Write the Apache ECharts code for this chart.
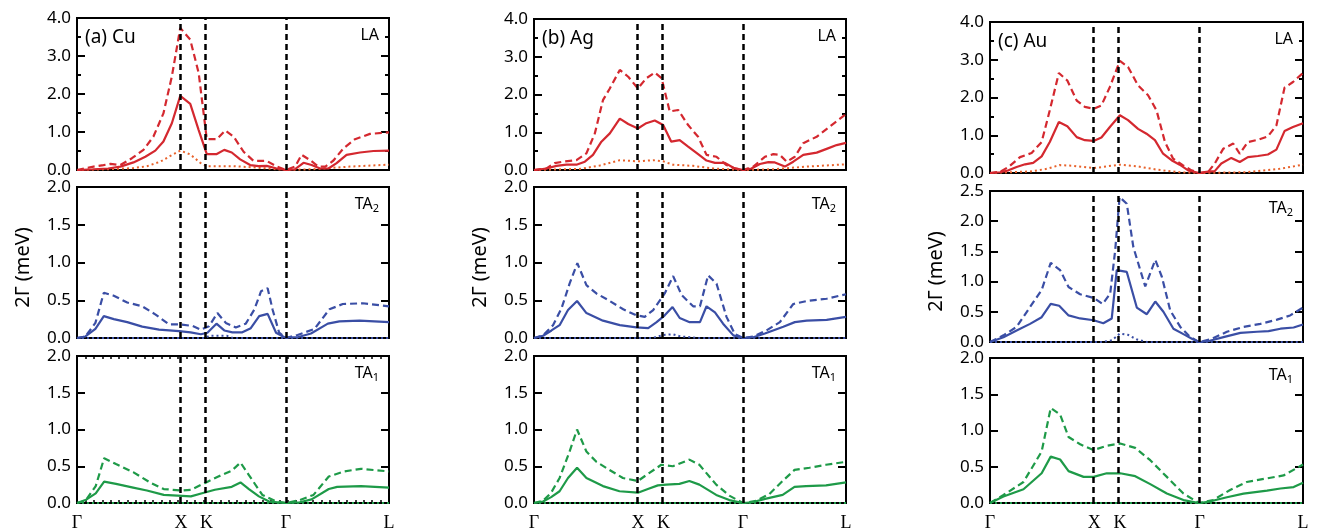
<!DOCTYPE html>
<html>
<head>
<meta charset="utf-8">
<script src="https://cdn.jsdelivr.net/npm/echarts@6/dist/echarts.min.js"></script>
<style>
  html, body { margin: 0; padding: 0; background: #fff; }
  #main { width: 1326px; height: 532px; }
</style>
</head>
<body>
<div id="main"></div>
<script>
// high symmetry points along the path (fraction of path length)
const hsymPos = [0, 0.333, 0.415, 0.67, 1]
const hsymLabels = ['Γ', 'X', 'K', 'Γ', 'L']

const metals = ['(a) Cu', '(b) Ag', '(c) Au']
const modes = ['LA', 'TA2', 'TA1']
const yMax = [[4, 2, 2], [4, 2, 2], [4, 2.5, 2]]

// ---- Cu ----
const cuLaSolid = [[0,0],[0.053,0.02],[0.1,0.04],[0.139,0.09],[0.181,0.2],[0.219,0.35],[0.251,0.51],[0.277,0.75],[0.304,1.23],[0.331,1.95],[0.363,1.74],[0.39,1.05],[0.416,0.42],[0.448,0.42],[0.472,0.53],[0.496,0.46],[0.523,0.28],[0.555,0.13],[0.582,0.1],[0.608,0.11],[0.64,0.04],[0.67,0],[0.699,0.02],[0.726,0.19],[0.752,0.13],[0.779,0.04],[0.806,0.04],[0.832,0.18],[0.864,0.4],[0.907,0.46],[0.95,0.5],[1,0.51]]
const cuLaDash = [[0,0],[0.053,0.09],[0.085,0.13],[0.107,0.16],[0.139,0.13],[0.176,0.31],[0.213,0.53],[0.245,0.88],[0.277,1.49],[0.304,2.46],[0.331,3.74],[0.363,3.43],[0.39,2.55],[0.416,0.81],[0.448,0.81],[0.475,1.04],[0.502,0.88],[0.534,0.48],[0.566,0.24],[0.608,0.24],[0.64,0.09],[0.67,0],[0.699,0.09],[0.72,0.4],[0.747,0.26],[0.774,0.09],[0.796,0.09],[0.822,0.25],[0.854,0.57],[0.891,0.81],[0.939,0.95],[1,0.99]]
const cuLaDot = [[0,0],[0.1,0.02],[0.181,0.05],[0.224,0.1],[0.267,0.22],[0.299,0.37],[0.331,0.51],[0.363,0.41],[0.395,0.19],[0.416,0.1],[0.502,0.1],[0.566,0.07],[0.67,0],[0.757,0.02],[0.874,0.09],[1,0.14]]
const cuTa2Solid = [[0,0],[0.027,0.02],[0.059,0.12],[0.086,0.29],[0.118,0.25],[0.161,0.21],[0.209,0.15],[0.263,0.11],[0.327,0.09],[0.364,0.075],[0.397,0.05],[0.418,0.07],[0.447,0.19],[0.472,0.1],[0.498,0.075],[0.53,0.075],[0.557,0.13],[0.584,0.29],[0.611,0.32],[0.638,0.07],[0.665,0.01],[0.67,0],[0.707,0.01],[0.75,0.06],[0.804,0.19],[0.841,0.22],[0.906,0.23],[1,0.21]]
const cuTa2Dash = [[0,0],[0.027,0.02],[0.059,0.2],[0.086,0.6],[0.118,0.56],[0.161,0.47],[0.209,0.42],[0.252,0.31],[0.295,0.18],[0.332,0.18],[0.37,0.16],[0.397,0.11],[0.423,0.155],[0.45,0.33],[0.477,0.2],[0.509,0.14],[0.541,0.19],[0.568,0.375],[0.59,0.62],[0.611,0.66],[0.627,0.375],[0.648,0.07],[0.67,0],[0.707,0.04],[0.761,0.12],[0.809,0.38],[0.852,0.45],[0.916,0.46],[1,0.42]]
const cuTa2Dot = [[0,0],[0.41,0],[0.425,0.03],[0.48,0.03],[0.5,0],[1,0]]
const cuTa1Solid = [[0,0],[0.027,0.04],[0.06,0.13],[0.087,0.29],[0.125,0.26],[0.18,0.21],[0.224,0.17],[0.278,0.11],[0.322,0.1],[0.365,0.09],[0.398,0.13],[0.442,0.18],[0.496,0.22],[0.524,0.28],[0.551,0.19],[0.583,0.09],[0.616,0.02],[0.67,0],[0.714,0.01],[0.752,0.05],[0.807,0.19],[0.834,0.22],[0.91,0.23],[1,0.21]]
const cuTa1Dash = [[0,0],[0.027,0.03],[0.06,0.23],[0.087,0.61],[0.125,0.53],[0.18,0.42],[0.234,0.28],[0.278,0.19],[0.332,0.17],[0.365,0.18],[0.409,0.27],[0.453,0.36],[0.496,0.44],[0.524,0.55],[0.551,0.38],[0.594,0.11],[0.638,0.02],[0.67,0],[0.714,0.04],[0.758,0.11],[0.807,0.36],[0.856,0.43],[0.91,0.465],[1,0.43]]
const cuTa1Dot = [[0,0],[1,0]]

// ---- Ag ----
const agLaSolid = [[0,0],[0.04,0.04],[0.072,0.11],[0.104,0.14],[0.136,0.14],[0.163,0.22],[0.189,0.4],[0.216,0.75],[0.243,0.97],[0.275,1.36],[0.302,1.22],[0.333,1.1],[0.36,1.24],[0.387,1.31],[0.414,1.19],[0.44,0.75],[0.467,0.79],[0.494,0.62],[0.526,0.42],[0.553,0.25],[0.58,0.19],[0.612,0.19],[0.639,0.06],[0.67,0],[0.697,0.04],[0.724,0.16],[0.751,0.21],[0.772,0.2],[0.804,0.09],[0.831,0.22],[0.863,0.4],[0.906,0.46],[0.938,0.56],[0.97,0.66],[1,0.72]]
const agLaDash = [[0,0],[0.04,0.04],[0.066,0.18],[0.093,0.22],[0.136,0.26],[0.168,0.44],[0.195,0.97],[0.221,1.85],[0.243,2.16],[0.275,2.65],[0.302,2.47],[0.333,2.16],[0.36,2.43],[0.387,2.58],[0.409,2.43],[0.435,1.55],[0.462,1.59],[0.494,1.19],[0.526,0.88],[0.553,0.4],[0.585,0.35],[0.617,0.13],[0.644,0.04],[0.67,0],[0.703,0.09],[0.74,0.35],[0.767,0.42],[0.788,0.4],[0.81,0.22],[0.836,0.35],[0.863,0.71],[0.906,0.88],[0.954,1.19],[1,1.48]]
const agLaDot = [[0,0],[0.15,0.03],[0.211,0.12],[0.275,0.26],[0.333,0.23],[0.382,0.26],[0.414,0.23],[0.446,0.14],[0.51,0.11],[0.574,0.04],[0.67,0],[0.767,0.02],[0.874,0.09],[1,0.15]]
const agTa2Solid = [[0,0],[0.029,0.03],[0.056,0.1],[0.082,0.17],[0.109,0.37],[0.138,0.49],[0.168,0.33],[0.221,0.23],[0.275,0.17],[0.328,0.14],[0.366,0.13],[0.393,0.21],[0.419,0.3],[0.444,0.41],[0.467,0.265],[0.499,0.21],[0.532,0.21],[0.553,0.42],[0.58,0.34],[0.606,0.19],[0.639,0.035],[0.67,0],[0.703,0.01],[0.74,0.06],[0.799,0.15],[0.836,0.21],[0.874,0.23],[0.938,0.24],[1,0.28]]
const agTa2Dash = [[0,0],[0.029,0.035],[0.061,0.17],[0.088,0.39],[0.114,0.72],[0.139,0.99],[0.168,0.7],[0.2,0.59],[0.243,0.49],[0.286,0.38],[0.328,0.3],[0.355,0.28],[0.382,0.37],[0.419,0.59],[0.446,0.82],[0.473,0.57],[0.51,0.42],[0.532,0.42],[0.558,0.83],[0.585,0.72],[0.617,0.28],[0.644,0.05],[0.67,0],[0.703,0.02],[0.745,0.1],[0.788,0.21],[0.831,0.45],[0.874,0.49],[0.938,0.52],[1,0.58]]
const agTa2Dot = [[0,0],[0.38,0],[0.415,0.04],[0.445,0.05],[0.47,0.02],[0.53,0],[1,0]]
const agTa1Solid = [[0,0],[0.029,0.02],[0.055,0.08],[0.082,0.16],[0.109,0.34],[0.138,0.48],[0.168,0.34],[0.221,0.23],[0.274,0.16],[0.333,0.14],[0.365,0.19],[0.397,0.24],[0.424,0.25],[0.466,0.26],[0.498,0.3],[0.53,0.25],[0.584,0.11],[0.626,0.04],[0.67,0],[0.7,0.01],[0.744,0.06],[0.797,0.11],[0.835,0.22],[0.872,0.23],[0.936,0.24],[1,0.28]]
const agTa1Dash = [[0,0],[0.029,0.03],[0.055,0.14],[0.082,0.34],[0.114,0.7],[0.138,1.0],[0.168,0.7],[0.2,0.56],[0.242,0.45],[0.285,0.34],[0.333,0.3],[0.37,0.41],[0.408,0.52],[0.445,0.5],[0.498,0.59],[0.53,0.52],[0.584,0.25],[0.626,0.1],[0.67,0],[0.712,0.03],[0.754,0.12],[0.797,0.3],[0.835,0.45],[0.883,0.48],[0.936,0.52],[1,0.56]]
const agTa1Dot = [[0,0],[1,0]]

// ---- Au ----
const auLaSolid = [[0,0],[0.032,0.02],[0.059,0.07],[0.085,0.16],[0.112,0.23],[0.138,0.27],[0.165,0.44],[0.191,0.82],[0.22,1.35],[0.247,1.24],[0.277,0.95],[0.303,0.87],[0.331,0.85],[0.356,0.94],[0.383,1.22],[0.415,1.53],[0.441,1.4],[0.473,1.17],[0.5,1.04],[0.527,0.87],[0.553,0.51],[0.58,0.34],[0.606,0.22],[0.633,0.07],[0.668,0],[0.691,0.03],[0.718,0.05],[0.739,0.25],[0.771,0.4],[0.798,0.29],[0.824,0.42],[0.856,0.45],[0.888,0.49],[0.915,0.62],[0.941,1.11],[0.968,1.22],[1,1.32]]
const auLaDash = [[0,0],[0.032,0.03],[0.059,0.16],[0.096,0.42],[0.133,0.53],[0.165,0.82],[0.191,1.66],[0.22,2.65],[0.247,2.45],[0.277,1.92],[0.303,1.75],[0.331,1.7],[0.356,1.79],[0.383,2.28],[0.415,2.97],[0.441,2.81],[0.473,2.32],[0.505,2.06],[0.532,1.66],[0.559,0.82],[0.585,0.38],[0.617,0.2],[0.644,0.07],[0.668,0],[0.697,0.03],[0.718,0.25],[0.745,0.64],[0.777,0.78],[0.798,0.51],[0.824,0.82],[0.856,0.88],[0.888,0.97],[0.915,1.26],[0.941,2.26],[0.968,2.41],[1,2.65]]
const auLaDot = [[0,0],[0.128,0.04],[0.181,0.11],[0.223,0.21],[0.266,0.19],[0.331,0.13],[0.415,0.22],[0.468,0.18],[0.532,0.09],[0.606,0.02],[0.668,0],[0.818,0.02],[0.925,0.11],[1,0.22]]
const auTa2Solid = [[0,0],[0.043,0.08],[0.085,0.19],[0.128,0.3],[0.165,0.41],[0.194,0.63],[0.221,0.6],[0.251,0.44],[0.288,0.39],[0.331,0.36],[0.362,0.31],[0.389,0.39],[0.405,1.19],[0.437,1.16],[0.469,0.57],[0.501,0.46],[0.528,0.67],[0.554,0.5],[0.586,0.22],[0.618,0.13],[0.645,0.055],[0.668,0],[0.702,0.02],[0.746,0.08],[0.8,0.15],[0.853,0.17],[0.89,0.18],[0.928,0.22],[0.97,0.24],[1,0.29]]
const auTa2Dash = [[0,0],[0.043,0.11],[0.085,0.25],[0.128,0.58],[0.165,0.86],[0.194,1.31],[0.224,1.19],[0.251,0.91],[0.288,0.79],[0.331,0.73],[0.36,0.63],[0.384,0.8],[0.4,1.52],[0.414,2.4],[0.437,2.29],[0.458,1.57],[0.496,0.92],[0.528,1.36],[0.549,1.08],[0.576,0.52],[0.608,0.25],[0.64,0.08],[0.668,0],[0.708,0.05],[0.757,0.17],[0.81,0.25],[0.864,0.3],[0.917,0.37],[0.959,0.44],[1,0.57]]
const auTa2Dot = [[0,0],[0.36,0],[0.39,0.03],[0.415,0.14],[0.44,0.12],[0.47,0.04],[0.5,0],[1,0]]
const auTa1Solid = [[0,0],[0.043,0.09],[0.107,0.19],[0.165,0.41],[0.194,0.64],[0.224,0.6],[0.251,0.44],[0.299,0.36],[0.331,0.36],[0.373,0.41],[0.416,0.41],[0.464,0.37],[0.512,0.26],[0.565,0.13],[0.618,0.04],[0.668,0],[0.702,0.02],[0.757,0.08],[0.81,0.13],[0.885,0.17],[0.928,0.2],[0.97,0.22],[1,0.28]]
const auTa1Dash = [[0,0],[0.043,0.11],[0.107,0.29],[0.165,0.71],[0.194,1.31],[0.224,1.22],[0.251,0.91],[0.288,0.81],[0.331,0.73],[0.373,0.79],[0.416,0.82],[0.464,0.76],[0.512,0.59],[0.565,0.36],[0.618,0.13],[0.668,0],[0.713,0.04],[0.767,0.18],[0.82,0.29],[0.885,0.34],[0.938,0.38],[1,0.53]]
const auTa1Dot = [[0,0],[1,0]]

const curves = [
  [[cuLaSolid, cuLaDash, cuLaDot], [cuTa2Solid, cuTa2Dash, cuTa2Dot], [cuTa1Solid, cuTa1Dash, cuTa1Dot]],
  [[agLaSolid, agLaDash, agLaDot], [agTa2Solid, agTa2Dash, agTa2Dot], [agTa1Solid, agTa1Dash, agTa1Dot]],
  [[auLaSolid, auLaDash, auLaDot], [auTa2Solid, auTa2Dash, auTa2Dot], [auTa1Solid, auTa1Dash, auTa1Dot]]
]

// layout
const colLeft = [77, 534, 990]
const colWidth = [312, 312, 313]
const rowTop = [[18, 187, 356], [19, 187, 356], [22, 191, 358]]
const rowHeight = [[152, 151, 148], [151, 151, 150], [151, 151, 150]]
const modeColor = ['#d4282f', '#3a4ea5', '#1e9a48']
const dotColor = ['#e8622b', '#3a4ea5', '#1e9a48']

const sans = 'Noto Sans'
const chart = echarts.init(document.getElementById('main'), null, { renderer: 'canvas' })

let grids = [], xAxes = [], yAxes = [], series = [], graphics = []
let extraX = []

for (let c = 0; c < 3; c++) {
  for (let r = 0; r < 3; r++) {
    const g = c * 3 + r
    const max = yMax[c][r]
    const step = r === 0 ? 1 : 0.5
    const bottomRow = r === 2
    const cuTicks = c === 0 && r === 2
    grids.push({
      left: colLeft[c], top: rowTop[c][r], width: colWidth[c], height: rowHeight[c][r],
      show: true, borderColor: '#000', borderWidth: 2, backgroundColor: 'transparent'
    })
    xAxes.push({
      type: 'value', gridIndex: g, position: 'bottom', min: 0, max: 1, interval: 1 / 37,
      axisLine: { show: false, onZero: false }, splitLine: { show: false },
      axisTick: { show: cuTicks, inside: true, length: 3, lineStyle: { color: '#000', width: 1.5 } },
      axisLabel: bottomRow ? {
        show: true, customValues: hsymPos, margin: 11,
        fontFamily: 'Liberation Serif', fontSize: 18, color: '#000',
        formatter: v => hsymLabels[hsymPos.indexOf(v)]
      } : { show: false }
    })
    if (cuTicks) {
      // only this panel shows the fine q-grid ticks on top and bottom
      extraX.push({
        type: 'value', gridIndex: g, position: 'top', min: 0, max: 1, interval: 1 / 37,
        axisLine: { show: false, onZero: false }, splitLine: { show: false }, axisLabel: { show: false },
        axisTick: { show: true, inside: true, length: 3, lineStyle: { color: '#000', width: 1.5 } }
      })
    }
    const yBase = {
      type: 'value', gridIndex: g, min: 0, max: max, interval: step,
      axisLine: { show: false, onZero: false }, splitLine: { show: false },
      axisTick: { show: true, inside: true, length: 8, lineStyle: { color: '#000', width: 2 } },
      minorTick: { show: r === 0, splitNumber: 2, length: 4, lineStyle: { color: '#000', width: 2 } }
    }
    yAxes.push(Object.assign({}, yBase, {
      position: 'left',
      axisLabel: { show: true, margin: 6, fontFamily: sans, fontSize: 17, color: '#000', formatter: v => v.toFixed(1) }
    }))
    yAxes.push(Object.assign({}, yBase, { position: 'right', axisLabel: { show: false } }))

    const [solid, dash, dot] = curves[c][r]
    const base = { type: 'line', xAxisIndex: g, yAxisIndex: 2 * g, symbol: 'none', silent: true, animation: false }
    series.push(Object.assign({}, base, { data: dot, z: 2, lineStyle: { color: dotColor[r], width: 2, type: [2, 3] } }))
    series.push(Object.assign({}, base, { data: dash, z: 3, lineStyle: { color: modeColor[r], width: 2.2, type: [7, 4] } }))
    series.push(Object.assign({}, base, {
      data: solid, z: 4, lineStyle: { color: modeColor[r], width: 2.2 },
      markLine: {
        symbol: 'none', silent: true, animation: false, label: { show: false },
        lineStyle: { color: '#000', width: 2.5, type: [6, 4] },
        data: hsymPos.slice(1, 4).map(p => ({ xAxis: p }))
      }
    }))

    // mode label in the top right corner
    const sub = modes[r].length > 2 ? modes[r].slice(2) : ''
    graphics.push({
      type: 'text', right: 1326 - colLeft[c] - colWidth[c] + 10, top: rowTop[c][r] + 9,
      style: {
        text: sub ? '{m|TA}{s|' + sub + '}' : '{m|LA}',
        rich: { m: { fontFamily: sans, fontSize: 16, fill: '#000' }, s: { fontFamily: sans, fontSize: 11, fill: '#000', padding: [10, 0, 0, 0] } }
      }
    })
  }
  // metal label
  graphics.push({
    type: 'text', left: colLeft[c] + 8, top: rowTop[c][0] + 10,
    style: { text: metals[c], fontFamily: sans, fontSize: 19, fill: '#000' }
  })
  // y axis title
  const midTop = rowTop[c][1], midH = rowHeight[c][1]
  graphics.push({
    type: 'text', x: colLeft[c] - 54, y: midTop + midH / 2 + 5, rotation: Math.PI / 2,
    style: { text: '2Γ (meV)', fontFamily: sans, fontSize: 20, fill: '#000', align: 'center', verticalAlign: 'middle' }
  })
}

chart.setOption({
  animation: false,
  backgroundColor: '#fff',
  grid: grids,
  xAxis: xAxes.concat(extraX),
  yAxis: yAxes,
  series: series,
  graphic: graphics
})
</script>
</body>
</html>
